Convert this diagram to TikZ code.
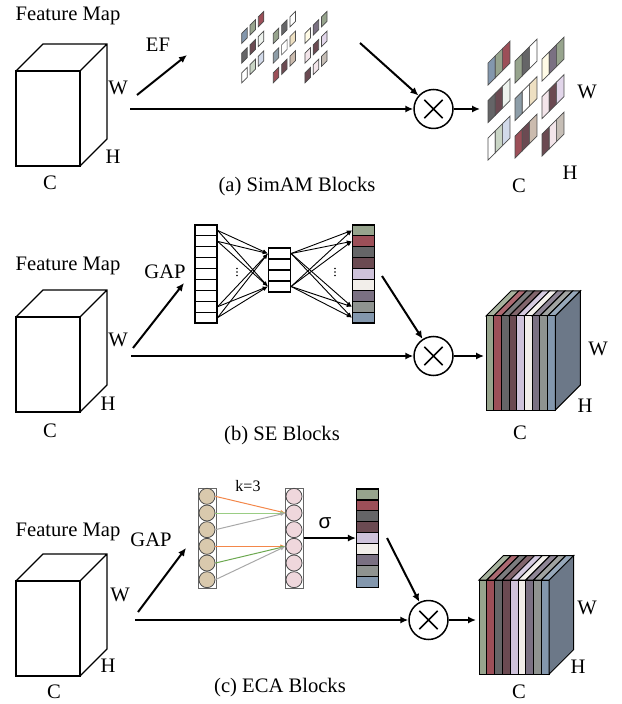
\documentclass[tikz,border=0pt]{standalone}
\usepackage{fontspec}
\setmainfont{Liberation Serif}
\newfontfamily\sigmafont{Liberation Sans}
\usetikzlibrary{arrows.meta, positioning, fit}
\definecolor{sage}{HTML}{97A48D}
\definecolor{wine}{HTML}{9C4F58}
\definecolor{darkgrey}{HTML}{656567}
\definecolor{mauve}{HTML}{6B4A52}
\definecolor{lavender}{HTML}{CEC2DA}
\definecolor{offwhite}{HTML}{F2EEEA}
\definecolor{greypurple}{HTML}{7A7082}
\definecolor{midgrey}{HTML}{8F9390}
\definecolor{bluegrey}{HTML}{8397AD}
\definecolor{steelgrey}{HTML}{8D9DA8}
\definecolor{mint}{HTML}{EEF3EE}
\definecolor{palegreen}{HTML}{C9D5C5}
\definecolor{paleblue}{HTML}{D2DAEA}
\definecolor{beige}{HTML}{EEE0C2}
\definecolor{taupe}{HTML}{CBBBAE}
\definecolor{cream}{HTML}{FFFBE6}
\definecolor{pink}{HTML}{F3E5EA}
\definecolor{lilac}{HTML}{E2D6EA}
\definecolor{taupegrey}{HTML}{C6BEB6}
\definecolor{slate}{HTML}{6C7888}
\definecolor{tan}{HTML}{D9C9AD}
\definecolor{rose}{HTML}{EFD7DC}
\definecolor{korange}{HTML}{F3874A}
\definecolor{kgreen}{HTML}{9ACD84}
\definecolor{kgreendark}{HTML}{6CA850}
\definecolor{kgrey}{HTML}{A8A8A8}
\tikzset{
  arrow/.style={-{Latex[length=4pt, width=3.6pt]}, line width=1pt},
  thinarrow/.style={-{Latex[length=2.6pt, width=2pt]}, line width=0.45pt},
  karrow/.style={-{Latex[length=2.6pt, width=2pt]}, line width=0.5pt},
  cubeline/.style={line width=0.6pt},
  tile/.style={draw=black!70, line width=0.35pt},
  slab/.style={draw=black, line width=0.5pt},
  cell/.style={rectangle, draw, line width=0.6pt, minimum width=11pt,
    minimum height=5.45pt, inner sep=0pt},
  ecabox/.style={rectangle, draw=black!60, line width=0.5pt, minimum width=9pt,
    minimum height=50pt, inner sep=0pt},
  ecanode/.style={circle, draw=black!70, line width=0.4pt, minimum size=8pt, inner sep=0pt},
  dot/.style={circle, fill=black, minimum size=0.9pt, inner sep=0pt},
  mul/.style={circle, draw, line width=0.75pt, minimum size=19.5pt, inner sep=0pt,
    path picture={
      \draw[line width=0.75pt]
        ([shift={(-4.6pt,-4.6pt)}]path picture bounding box.center) --
        ([shift={(4.6pt,4.6pt)}]path picture bounding box.center)
        ([shift={(-4.6pt,4.6pt)}]path picture bounding box.center) --
        ([shift={(4.6pt,-4.6pt)}]path picture bounding box.center);}},
  lbl/.style={inner sep=0pt},
  small/.style={inner sep=0pt, font=\fontsize{8}{9}\selectfont},
}

\begin{document}
\begin{tikzpicture}[x=0.5pt, y=-0.5pt, font=\fontsize{10.3}{12}\selectfont]
\useasboundingbox (0,0) rectangle (621,704);

% input feature maps
\foreach \t in {71,317,581} {
  \draw[cubeline] (16,\t) rectangle (80,\t+95);
  \draw[cubeline] (16,\t) -- (43,\t-27) -- (107,\t-27) -- (107,\t+68) -- (80,\t+95)
    (80,\t) -- (107,\t-27);
}
\node[lbl] (a-fm) at (68,16) {Feature Map};
\node[lbl] (a-w) at (118,88) {W};
\node[lbl] (a-h) at (113,157) {H};
\node[lbl] (a-c) at (50,183) {C};
\node[lbl] (b-fm) at (68,266) {Feature Map};
\node[lbl] (b-w) at (118,340) {W};
\node[lbl] (b-h) at (108,404) {H};
\node[lbl] (b-c) at (50,431) {C};
\node[lbl] (c-fm) at (68,532) {Feature Map};
\node[lbl] (c-w) at (120,595) {W};
\node[lbl] (c-h) at (108,666) {H};
\node[lbl] (c-c) at (54,692) {C};

% (a) SimAM
\foreach \g/\r/\ca/\cb/\cc in {1/1/bluegrey/sage/wine, 1/2/darkgrey/mauve/mint,
    1/3/white/palegreen/paleblue, 2/1/sage/darkgrey/white, 2/2/steelgrey/white/beige,
    2/3/wine/mauve/taupe, 3/1/cream/greypurple/sage, 3/2/pink/mauve/lilac,
    3/3/mauve/pink/taupegrey} {
  \foreach \j/\tc in {0/\ca,1/\cb,2/\cc} {
    \filldraw[tile, fill=\tc] ({241.7+(\g-1)*31.6+8.3*\j},{43.5+(\r-1)*19.7-8.3*\j})
      -- ++(5.5,-5.5) -- ++(0,-10) -- ++(-5.5,5.5) -- cycle;
    \filldraw[tile, fill=\tc] ({488+(\g-1)*27+7.3*\j},{85+(\r-1)*37.5-(\g-1)*2-7.3*\j})
      -- ++(7.3,-7.3) -- ++(0,-22) -- ++(-7.3,7.3) -- cycle;
  }
}
\node[lbl] (a-ef) at (158,45) {EF};
\node[mul] (a-mul) at (433.5,109) {};
\coordinate (a-split) at (130,109);
\coordinate (a-ef-from) at (137,95);
\coordinate (a-ef-to) at (187,55);
\coordinate (a-att) at (360,43);
\coordinate (a-out) at (480,109);
\draw[arrow] (a-ef-from) -- (a-ef-to);
\draw[arrow] (a-split) -- (a-mul);
\draw[arrow] (a-att) -- (a-mul);
\draw[arrow] (a-mul) -- (a-out);
\node[lbl] (a-ow) at (587,92) {W};
\node[lbl] (a-oh) at (570,173) {H};
\node[lbl] (a-oc) at (519,186) {C};
\node[lbl] (a-title) at (297,187) {(a) SimAM Blocks};

% (b) SE
\foreach \i in {1,...,9}
  \node[cell] (se-in-\i) at (206,{225+10.9*(\i-0.5)}) {};
\foreach \i in {1,...,4}
  \node[cell] (se-mid-\i) at (279.5,{248+11*(\i-0.5)}) {};
\foreach \i/\col in {1/sage,2/wine,3/darkgrey,4/mauve,5/lavender,6/offwhite,
    7/greypurple,8/midgrey,9/bluegrey}
  \node[cell, fill=\col] (se-out-\i) at (363.5,{225+10.9*(\i-0.5)}) {};
\foreach \i in {1,2,8,9} {
  \foreach \m in {1,4} {
    \draw[thinarrow] (se-in-\i.east) -- (se-mid-\m.west);
    \draw[thinarrow] (se-mid-\m.east) -- (se-out-\i.west);
  }
}
\foreach \k in {-1,0,1} {
  \node[dot] (se-dot-l\k) at (237,{272+3.5*\k}) {};
  \node[dot] (se-dot-r\k) at (335,{272+3.5*\k}) {};
}
\node[lbl] (b-gap) at (165,272) {GAP};
\node[mul] (b-mul) at (433.5,356) {};
\coordinate (b-split) at (131,356);
\coordinate (b-gap-from) at (133,348);
\coordinate (b-gap-to) at (184,283);
\coordinate (b-att) at (382,276);
\coordinate (b-out) at (484,356);
\draw[arrow] (b-gap-from) -- (b-gap-to);
\draw[arrow] (b-split) -- (b-mul);
\draw[arrow] (b-att) -- (b-mul);
\draw[arrow] (b-mul) -- (b-out);
\node[lbl] (b-ow) at (598,349) {W};
\node[lbl] (b-oh) at (585,406) {H};
\node[lbl] (b-oc) at (520,433) {C};
\node[lbl] (b-title) at (282,436) {(b) SE Blocks};

% (c) ECA
\node[ecabox] (eca-in-box) at (207,538) {};
\node[ecabox] (eca-mid-box) at (294,538) {};
\foreach \i in {1,...,6} {
  \node[ecanode, fill=tan] (eca-in-\i) at (207,{488+16.67*(\i-0.5)}) {};
  \node[ecanode, fill=rose] (eca-mid-\i) at (294,{488+16.67*(\i-0.5)}) {};
}
\draw[karrow, korange] (eca-in-1.east) -- (eca-mid-2.west);
\draw[karrow, kgreen] (eca-in-2.east) -- (eca-mid-2.west);
\draw[karrow, kgrey] (eca-in-3.east) -- (eca-mid-2.west);
\draw[karrow, korange] (eca-in-4.east) -- (eca-mid-4.west);
\draw[karrow, kgreendark] (eca-in-5.east) -- (eca-mid-4.west);
\draw[karrow, kgrey] (eca-in-6.east) -- (eca-mid-4.west);
\node[small] (eca-k) at (248,486) {k=3};
\foreach \i/\col in {1/sage,2/wine,3/darkgrey,4/mauve,5/lavender,6/offwhite,
    7/greypurple,8/midgrey,9/bluegrey}
  \node[cell, fill=\col] (eca-w-\i) at (367.5,{489+10.9*(\i-0.5)}) {};
\draw[arrow] (eca-mid-box.east |- eca-w-5.west) -- (eca-w-5.west);
\node[lbl] (eca-sigma) at (325,523) {\sigmafont σ};
\node[lbl] (c-gap) at (151,540) {GAP};
\node[mul] (c-mul) at (428.5,620) {};
\coordinate (c-split) at (135,620);
\coordinate (c-gap-from) at (138,612);
\coordinate (c-gap-to) at (186,548);
\coordinate (c-att) at (387,538);
\coordinate (c-out) at (476,620);
\draw[arrow] (c-gap-from) -- (c-gap-to);
\draw[arrow] (c-split) -- (c-mul);
\draw[arrow] (c-att) -- (c-mul);
\draw[arrow] (c-mul) -- (c-out);
\node[lbl] (c-ow) at (587,608) {W};
\node[lbl] (c-oh) at (578,667) {H};
\node[lbl] (c-oc) at (519,692) {C};
\node[lbl] (c-title) at (280,688) {(c) ECA Blocks};

% reweighted output blocks
\foreach \bx/\by/\bw/\bd in {486/316/7.7/25, 479/580/7.8/24.5} {
  \foreach \i/\col in {0/sage,1/wine,2/darkgrey,3/mauve,4/lavender,5/offwhite,
      6/greypurple,7/midgrey,8/bluegrey} {
    \filldraw[slab, fill=\col!85!white] ({\bx+\i*\bw},\by) -- ++(\bd,-\bd)
      -- ++(\bw,0) -- ++(-\bd,\bd) -- cycle;
    \filldraw[slab, fill=\col] ({\bx+\i*\bw},\by) rectangle ++(\bw,94);
  }
  \filldraw[slab, fill=slate] ({\bx+9*\bw},\by) -- ++(\bd,-\bd) -- ++(0,94)
    -- ++(-\bd,\bd) -- cycle;
}
\end{tikzpicture}
\end{document}
